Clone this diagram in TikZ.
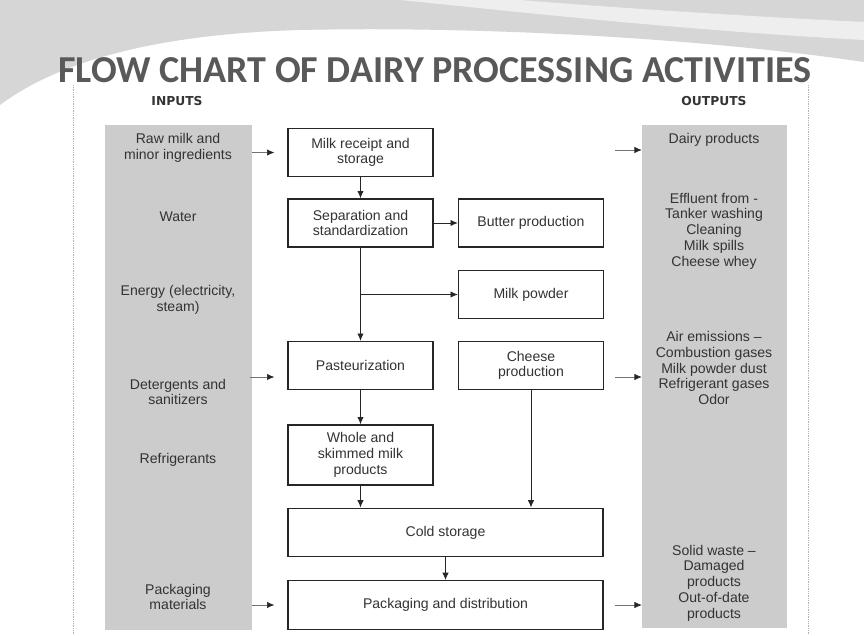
\documentclass[tikz,border=0pt]{standalone}
\usepackage{fontspec}
\setmainfont{Liberation Sans}
\newfontfamily\titlefont{Carlito}
\newfontfamily\headfont{DejaVu Sans}
\usetikzlibrary{arrows.meta,positioning,fit}
\newcommand{\boxsize}{\fontsize{12}{13.4}\selectfont}

\begin{document}
\begin{tikzpicture}[x=0.03cm,y=-0.03cm,
  procbox/.style={draw=black!85, line width=1.1pt, fill=white, align=center, text=black!80, font=\boxsize, inner sep=0pt},
  smallbox/.style={procbox, minimum width=4.35cm, minimum height=1.44cm},
  widebox/.style={procbox, minimum width=9.45cm, minimum height=1.46cm},
  colbox/.style={fill=gray!40, draw=none, inner sep=0pt},
  coltext/.style={align=center, text=black!80, font=\boxsize},
  heading/.style={font=\headfont\bfseries\fontsize{10.5}{12}\selectfont, text=black!80},
  flow/.style={-{Latex[length=2.2mm,width=1.9mm]}, line width=0.8pt, draw=black!85},
  side/.style={-{Latex[length=2.2mm,width=1.9mm,color=black!85]}, line width=0.6pt, draw=black!55}]
\useasboundingbox (0,0) rectangle (864,635);
\fill[white] (0,0) rectangle (864,635);

% Backdrop
\fill[gray!32] (0,0) -- (864,0) -- (864,62) .. controls (700,38) and (480,26) .. (300,30) .. controls (160,34) and (60,60) .. (0,105) -- cycle;
\fill[white, opacity=0.6] (400,0) .. controls (520,12) and (680,30) .. (864,40) -- (864,22) .. controls (720,15) and (580,5) .. (520,0) -- cycle;
\draw[gray!60, densely dotted, line width=0.5pt] (73,85) -- (73,635);
\draw[gray!60, densely dotted, line width=0.5pt] (808,85) -- (808,635);

% Title and headers
\node[font=\titlefont\bfseries\fontsize{32.5}{36}\selectfont, text=black!65] (title) at (435,70) {FLOW CHART OF DAIRY PROCESSING ACTIVITIES};
\node[heading] (inhead) at (177,101) {INPUTS};
\node[heading] (outhead) at (714,101) {OUTPUTS};

% Inputs
\node[colbox, fit={(105,125) (252,630)}] (incol) {};
\node[coltext] (rawmilk) at (178,148) {Raw milk and\\minor ingredients};
\node[coltext] (water) at (178,217) {Water};
\node[coltext] (energy) at (178,300) {Energy (electricity,\\steam)};
\node[coltext] (deterg) at (178,392) {Detergents and\\sanitizers};
\node[coltext] (refrig) at (178,460) {Refrigerants};
\node[coltext] (packmat) at (178,597) {Packaging\\materials};

% Outputs
\node[colbox, fit={(642,125) (787,628)}] (outcol) {};
\node[coltext] (dairy) at (714,140) {Dairy products};
\node[coltext] (effluent) at (714,231) {Effluent from -\\Tanker washing\\Cleaning\\Milk spills\\Cheese whey};
\node[coltext] (airem) at (714,368) {Air emissions –\\Combustion gases\\Milk powder dust\\Refrigerant gases\\Odor};
\node[coltext] (solid) at (714,583) {Solid waste –\\Damaged\\products\\Out-of-date\\products};

% Process steps
\node[smallbox] (milkrec) at (360.5,152.5) {Milk receipt and\\storage};
\node[smallbox] (separ) at (360.5,223) {Separation and\\standardization};
\node[smallbox] (butter) at (531,223) {Butter production};
\node[smallbox] (powder) at (531,294.5) {Milk powder};
\node[smallbox] (pasteur) at (360.5,365.5) {Pasteurization};
\node[smallbox] (cheese) at (531,365.5) {Cheese\\production};
\node[smallbox, minimum height=1.8cm] (whole) at (360.5,455) {Whole and\\skimmed milk\\products};
\node[widebox] (cold) at (445.5,532.5) {Cold storage};
\node[widebox] (pack) at (445.5,605) {Packaging and distribution};

% Flow
\draw[flow] (milkrec) -- (separ);
\draw[flow] (separ) -- (butter);
\draw[flow] (separ) -- (pasteur);
\draw[flow] (separ.south |- powder) -- (powder);
\draw[flow] (pasteur) -- (whole);
\draw[flow] (whole) -- (whole |- cold.north);
\draw[flow] (cheese) -- (cheese |- cold.north);
\draw[flow] (cold) -- (pack);

% Side arrows
\coordinate (detin) at (250,377);
\coordinate (dairyout) at (615,150);
\coordinate (airout) at (615,377);
\coordinate (solidout) at (615,605);
\draw[side, shorten >=0.39cm] (incol.east |- milkrec) -- (milkrec);
\draw[side, shorten >=0.39cm] (detin) -- (detin -| pasteur.west);
\draw[side, shorten >=0.39cm] (incol.east |- pack) -- (pack);
\draw[side] (dairyout) -- (dairyout -| outcol.west);
\draw[side] (airout) -- (airout -| outcol.west);
\draw[side] (solidout) -- (solidout -| outcol.west);
\end{tikzpicture}
\end{document}
